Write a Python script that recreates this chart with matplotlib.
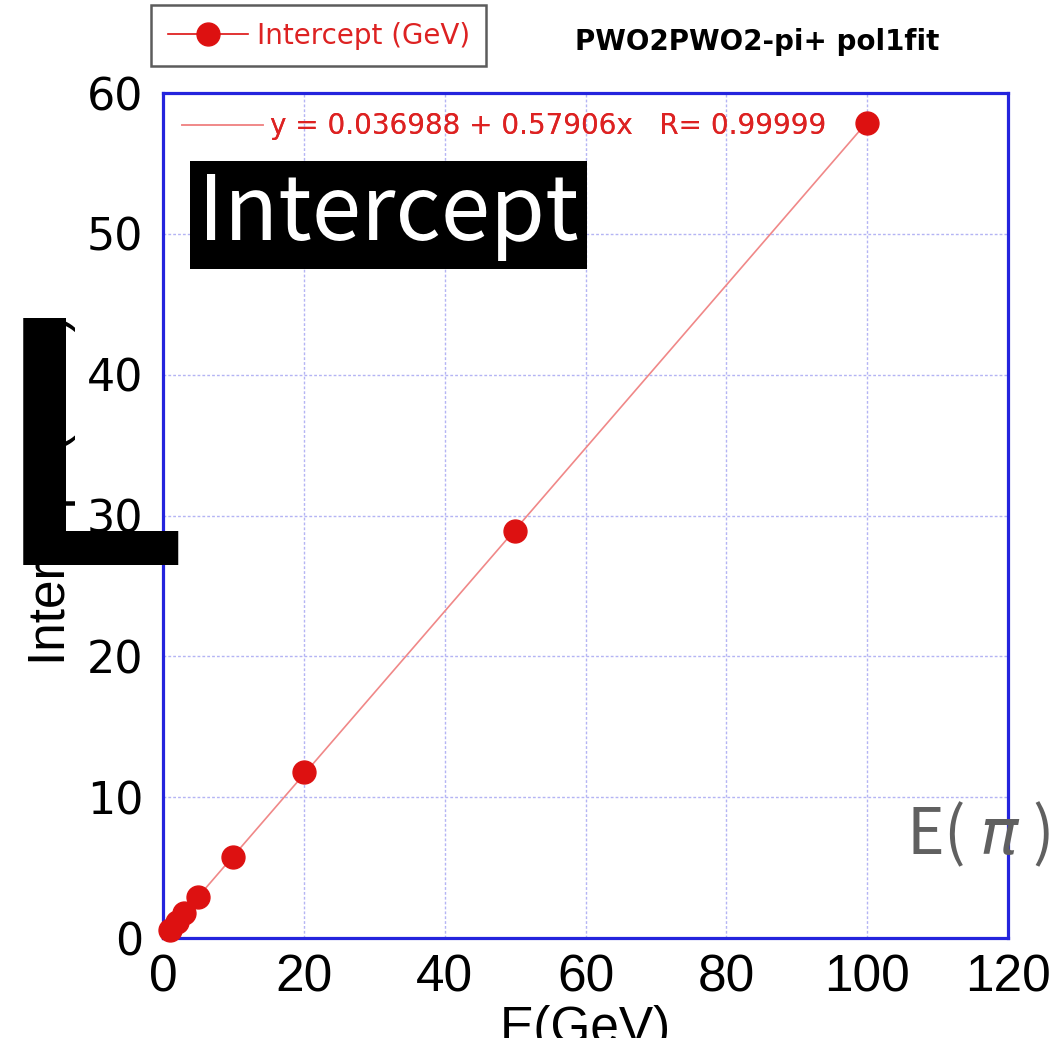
import matplotlib
matplotlib.use("Agg")
import matplotlib.pyplot as plt
import numpy as np

# beam energy (GeV) and fitted intercept (GeV)
energy = [1, 2, 3, 5, 10, 20, 50, 100]
intercept = [0.59, 1.17, 1.75, 2.92, 5.77, 11.8, 28.9, 57.9]

# pol1 fit result printed on the plot
fit_a = 0.036988
fit_b = 0.57906
fit_r = 0.99999

x_ticks = [0, 20, 40, 60, 80, 100, 120]
y_ticks = [0, 10, 20, 30, 40, 50, 60]

red = "#dd1111"
blue = "#2424dd"

fig = plt.figure(figsize=(10.51, 10.38), dpi=100)
ax = fig.add_axes([0.1551, 0.0963, 0.8040, 0.8141])

# fit line
xf = np.array([min(energy), max(energy)])
fit_line, = ax.plot(xf, fit_a + fit_b * xf, color="#f08888", lw=1.2, zorder=2)

# data points
pts, = ax.plot(energy, intercept, color=red, marker="o", ms=16.5, lw=0,
               zorder=3, clip_on=False)

ax.set_xlim(0, 120)
ax.set_ylim(0, 60)
ax.set_xticks(x_ticks)
ax.set_yticks(y_ticks)
ax.grid(True, color="#b4b4f4", lw=1, ls=(0, (2, 1.5)))
ax.tick_params(length=0)
ax.tick_params(axis="x", pad=11)
ax.tick_params(axis="y", pad=14)
for lab in ax.get_xticklabels():
    lab.set_fontfamily("Liberation Sans")
    lab.set_fontsize(37)
for lab in ax.get_yticklabels():
    lab.set_fontfamily("DejaVu Sans")
    lab.set_fontsize(32)
for sp in ax.spines.values():
    sp.set_color(blue)
    sp.set_linewidth(2.3)

ax.set_xlabel("E(GeV)", fontsize=37, family="Liberation Sans", labelpad=2)
ax.set_ylabel("Intercept (GeV)", fontsize=37, family="Liberation Sans",
              labelpad=8)
ax.yaxis.label.set_y(0.530)

# fit legend inside the frame
leg_fit = ax.legend([fit_line],
                    ["y = %g + %gx   R= %g" % (fit_a, fit_b, fit_r)],
                    loc="upper left", frameon=False, fontsize=20,
                    handlelength=2.9, handletextpad=0.25,
                    borderaxespad=0.3, labelcolor="#dd2222")
ax.add_artist(leg_fit)

# series legend above the frame
leg = fig.legend([pts], ["Intercept (GeV)"], loc="upper left",
                 bbox_to_anchor=(0.1437, 0.9952), borderaxespad=0,
                 fontsize=20, labelcolor="#dd2222", fancybox=False,
                 handlelength=2.9, numpoints=1,
                 handletextpad=0.3, borderpad=0.6)
leg.legend_handles[0].set_linestyle("-")
leg.legend_handles[0].set_linewidth(1.2)
leg.get_frame().set_edgecolor("#333333")
leg.get_frame().set_linewidth(1.8)

fig.text(0.720, 0.960, "PWO2PWO2-pi+ pol1fit", fontsize=20,
         fontweight="bold", ha="center", va="center")

# overlays
fig.text(0.3697, 0.7929, "Intercept", fontsize=64, color="white",
         family=["Noto Sans CJK JP", "DejaVu Sans"], ha="center",
         va="center",
         bbox=dict(facecolor="black", edgecolor="none", pad=6))
fig.text(0.862, 0.177, "E( $\\pi$ )", fontsize=46, color="#606060",
         family=["Noto Sans CJK JP", "DejaVu Sans"], ha="left",
         va="baseline")
fig.text(-0.002, 0.4557, "L", fontsize=250, fontweight=500,
         family=["Roboto", "DejaVu Sans"], color="black",
         ha="left", va="baseline", zorder=10)

fig.savefig("out.png", dpi=100)
